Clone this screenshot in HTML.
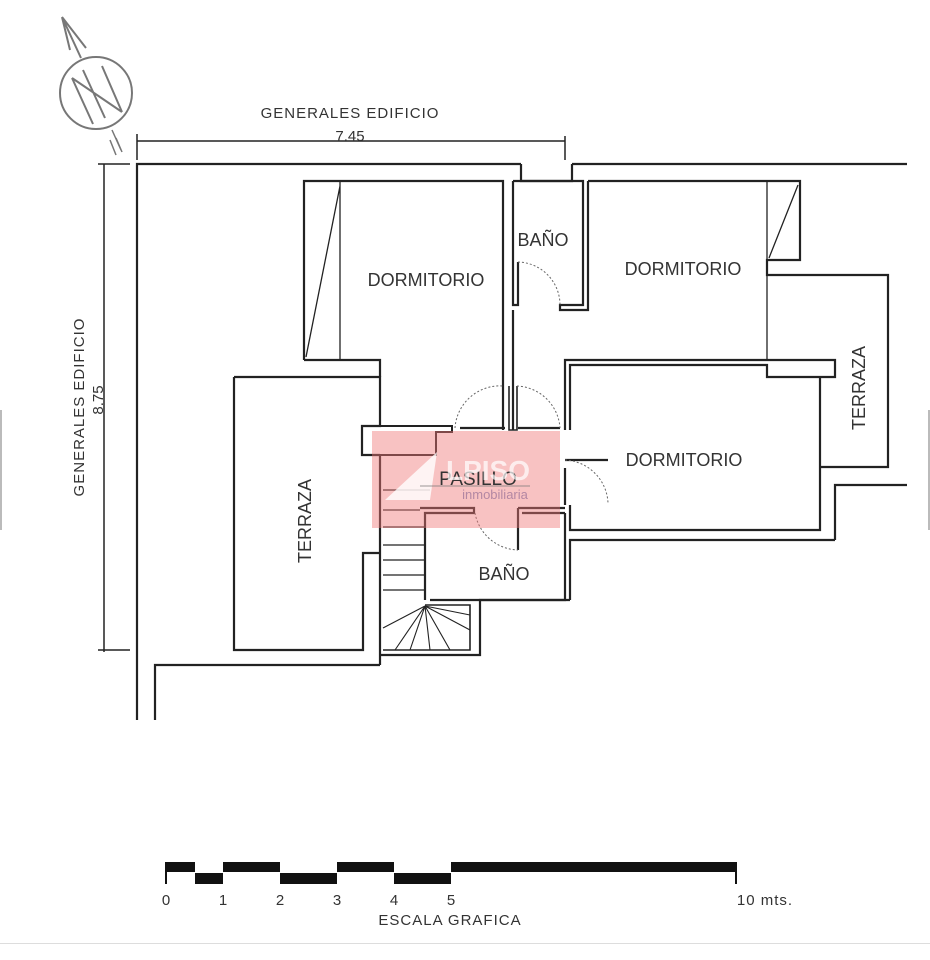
<!DOCTYPE html>
<html><head><meta charset="utf-8"><style>
html,body{margin:0;padding:0;background:#fff;}
svg{display:block;}
text{font-family:"Liberation Sans",sans-serif;fill:#333;}
</style></head><body>
<svg width="930" height="960" viewBox="0 0 930 960" xmlns="http://www.w3.org/2000/svg">
<!-- compass -->
<g fill="none" stroke="#777" stroke-width="2">
<circle cx="96" cy="93" r="36"/>
<path d="M72 78 L93 124 M83 70 L105 118 M102 66 L122 112 M72 78 L122 112"/>
<path d="M81 58 L62 17 M62 17 L70 50 M62 17 L86 48"/>
<path d="M112 130 L121 150 M110 140 L116 155 M116 138 L122 152" stroke-width="1.5"/>
</g>
<g fill="none" stroke="#222" stroke-width="2.2">
<!-- dimension lines -->
<path d="M137 141 L565 141 M137 134 L137 160 M565 136 L565 160" stroke-width="1.5"/>
<path d="M104 164 L104 652 M98 164 L130 164 M98 650 L130 650" stroke-width="1.5"/>
<!-- outer building -->
<path d="M137 720 L137 164 L521 164 M572 164 L907 164"/>
<path d="M521 164 L521 181 L572 181 L572 164"/>
<path d="M155 720 L155 665 L380 665"/>
<!-- dormitorio 1 -->
<path d="M304 360 L304 181 L503 181 L503 430"/>
<path d="M304 360 L380 360 L380 377"/>
<path d="M340 182 L340 360 M340 186 L306 357" stroke-width="1.3"/>
<!-- corridor walls -->
<path d="M513 181 L513 305 L518 305 L518 262"/>
<path d="M513 310 L513 430"/>
<path d="M509 386 L509 430 L517 430 L517 386" stroke-width="1.6"/>
<!-- baño top -->
<path d="M513 181 L583 181 L583 305 L560 305 L560 310 L588 310 L588 181"/>
<!-- dormitorio 2 -->
<path d="M588 181 L800 181 L800 260 L767 260 L767 275 L888 275 L888 467 L820 467"/>
<path d="M767 182 L767 360 M798 185 L769 258" stroke-width="1.3"/>
<path d="M565 430 L565 360 L835 360 L835 377 L767 377 L767 365 L570 365 L570 430"/>
<path d="M820 377 L820 530 L570 530 L570 505 M835 540 L835 485 L907 485 M835 540 L570 540 L570 600"/>
<path d="M565 460 L608 460 M565 468 L565 505"/>
<!-- pasillo / terraza left -->
<path d="M234 377 L380 377 L380 426 L362 426 L362 455 L380 455"/>
<path d="M234 377 L234 650 L363 650 L363 553 L380 553"/>
<path d="M380 455 L380 665 M380 655 L480 655 L480 600 L570 600"/>
<path d="M380 426 L452 426 L452 432 L436 432 L436 455 L380 455" stroke-width="2"/>
<path d="M460 428 L505 428 M518 428 L560 428"/>
<path d="M425 600 L425 513 L474 513 L474 508 L420 508 M518 508 L565 508 M518 508 L518 550 M522 513 L565 513"/>
<path d="M430 600 L565 600 L565 513"/>
<!-- stairs -->
<path d="M383 510 L420 510 M383 527 L425 527 M383 545 L425 545 M383 560 L425 560 M383 575 L425 575 M383 590 L425 590 M383 490 L430 490" stroke-width="1.2"/>
<path d="M425 605 L470 605 L470 650 L383 650" stroke-width="1.6"/>
<path d="M425 606 L383 628 M425 606 L395 650 M425 606 L410 650 M425 606 L430 650 M425 606 L450 650 M425 606 L470 630 M425 606 L470 615" stroke-width="1.1"/>
</g>
<!-- door arcs -->
<g fill="none" stroke="#666" stroke-width="1" stroke-dasharray="2,2">
<path d="M518 262 A43 43 0 0 1 560 305"/>
<path d="M455 428 A45 45 0 0 1 503 386"/>
<path d="M517 386 A45 45 0 0 1 560 428"/>
<path d="M565 460 A45 45 0 0 1 608 503"/>
<path d="M475 513 A45 45 0 0 0 518 550"/>
</g>
<!-- texts -->
<text x="350" y="118" font-size="15" text-anchor="middle" letter-spacing="1">GENERALES EDIFICIO</text>
<text x="350" y="141" font-size="15" text-anchor="middle">7.45</text>
<text transform="translate(84,407) rotate(-90)" font-size="15" text-anchor="middle" letter-spacing="1">GENERALES EDIFICIO</text>
<text transform="translate(103,400) rotate(-90)" font-size="15" text-anchor="middle">8.75</text>
<text x="426" y="286" font-size="18" text-anchor="middle">DORMITORIO</text>
<text x="543" y="246" font-size="18" text-anchor="middle">BAÑO</text>
<text x="683" y="275" font-size="18" text-anchor="middle">DORMITORIO</text>
<text x="684" y="466" font-size="18" text-anchor="middle">DORMITORIO</text>
<text transform="translate(865,388) rotate(-90)" font-size="18" text-anchor="middle">TERRAZA</text>
<text transform="translate(311,521) rotate(-90)" font-size="18" text-anchor="middle">TERRAZA</text>
<text x="504" y="580" font-size="18" text-anchor="middle">BAÑO</text>
<!-- watermark -->
<rect x="372" y="431" width="188" height="97" fill="rgba(240,120,120,0.45)"/>
<text x="478" y="485" font-size="19" text-anchor="middle">PASILLO</text>
<text x="488" y="480" font-size="28" font-weight="bold" text-anchor="middle" style="fill:rgba(255,255,255,0.7)">LPISO</text>
<text x="495" y="499" font-size="13" text-anchor="middle" style="fill:rgba(150,110,150,0.7)">inmobiliaria</text>
<path d="M385 500 L437 452 L430 500 Z" fill="rgba(255,255,255,0.8)"/>
<path d="M420 486 L530 486" stroke="rgba(120,120,120,0.5)" stroke-width="1.5"/>
<!-- scale bar -->
<g fill="#111">
<rect x="166" y="862" width="29" height="10"/>
<rect x="195" y="873" width="28" height="11"/>
<rect x="223" y="862" width="57" height="10"/>
<rect x="280" y="873" width="57" height="11"/>
<rect x="337" y="862" width="57" height="10"/>
<rect x="394" y="873" width="57" height="11"/>
<rect x="451" y="862" width="285" height="10"/>
</g>
<path d="M166 862 L166 884 M736 862 L736 884" stroke="#111" stroke-width="2"/>
<g font-size="15" text-anchor="middle">
<text x="166" y="905">0</text><text x="223" y="905">1</text><text x="280" y="905">2</text>
<text x="337" y="905">3</text><text x="394" y="905">4</text><text x="451" y="905">5</text>
<text x="765" y="905" letter-spacing="1">10 mts.</text>
<text x="450" y="925" letter-spacing="1">ESCALA GRAFICA</text>
</g>
<rect x="0" y="943" width="930" height="1" fill="#ddd"/>
<rect x="0" y="410" width="2" height="120" fill="#bbb"/>
<rect x="928" y="410" width="2" height="120" fill="#bbb"/>
</svg>
</body></html>
